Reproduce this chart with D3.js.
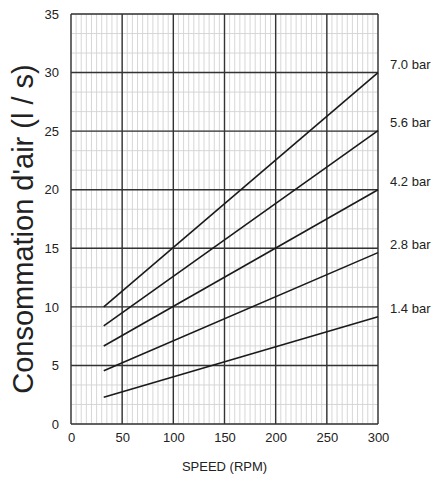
<!DOCTYPE html>
<meta charset="utf-8">
<html>
<head>
<style>
  body { margin: 0; background: #fff; }
  text { font-family: "Liberation Sans", Arial, sans-serif; fill: #222; }
</style>
<script src="https://d3js.org/d3.v7.min.js"></script>
</head>
<body>
<svg width="434" height="482"></svg>
<script>

// values
var speeds = [32, 300];                       // RPM at line start / end
var pressures = ["7.0 bar", "5.6 bar", "4.2 bar", "2.8 bar", "1.4 bar"];
var airStart = [10.0, 8.37, 6.66, 4.55, 2.28];  // l/s at start speed
var airEnd   = [30.0, 25.05, 20.0, 14.63, 9.16]; // l/s at 300 RPM
var xTicks = [0, 50, 100, 150, 200, 250, 300];
var yTicks = [0, 5, 10, 15, 20, 25, 30, 35];

var svg = d3.select("svg"),
    margin = {top: 14, right: 56, bottom: 58, left: 71};

var x = d3.scaleLinear()
    .domain([0, 300])
    .range([margin.left, 434 - margin.right]);

var y = d3.scaleLinear()
    .domain([0, 35])
    .range([482 - margin.bottom, margin.top]);

// minor grid
svg.append("g")
    .attr("stroke", "#d2d2d2")
    .attr("stroke-width", 0.9)
    .selectAll("line")
    .data(d3.range(0, 301, 5))
    .enter().append("line")
    .attr("x1", function(d) { return x(d); })
    .attr("x2", function(d) { return x(d); })
    .attr("y1", y(0))
    .attr("y2", y(35));

svg.append("g")
    .attr("stroke", "#d2d2d2")
    .attr("stroke-width", 0.9)
    .selectAll("line")
    .data(d3.range(0, 35.01, 5 / 3))
    .enter().append("line")
    .attr("y1", function(d) { return y(d); })
    .attr("y2", function(d) { return y(d); })
    .attr("x1", x(0))
    .attr("x2", x(300));

// major grid
svg.append("g")
    .attr("stroke", "#333")
    .attr("stroke-width", 1.4)
    .selectAll("line")
    .data(xTicks)
    .enter().append("line")
    .attr("x1", function(d) { return x(d); })
    .attr("x2", function(d) { return x(d); })
    .attr("y1", y(0))
    .attr("y2", y(35));

svg.append("g")
    .attr("stroke", "#333")
    .attr("stroke-width", 1.4)
    .selectAll("line")
    .data(yTicks)
    .enter().append("line")
    .attr("y1", function(d) { return y(d); })
    .attr("y2", function(d) { return y(d); })
    .attr("x1", x(0))
    .attr("x2", x(300));

// axes (labels only)
svg.append("g")
    .attr("transform", "translate(0," + y(0) + ")")
    .call(d3.axisBottom(x).tickValues(xTicks).tickSize(0).tickPadding(9))
    .call(function(g) { g.select(".domain").remove(); })
    .selectAll("text")
    .attr("font-size", 13)
    .attr("fill", "#222");

svg.append("g")
    .attr("transform", "translate(" + x(0) + ",0)")
    .call(d3.axisLeft(y).tickValues(yTicks).tickSize(0).tickPadding(12))
    .call(function(g) { g.select(".domain").remove(); })
    .selectAll("text")
    .attr("font-size", 13)
    .attr("fill", "#222");

// lines
var line = d3.line()
    .x(function(d) { return x(d[0]); })
    .y(function(d) { return y(d[1]); });

svg.append("g")
    .attr("fill", "none")
    .attr("stroke", "#1a1a1a")
    .attr("stroke-width", 1.6)
    .selectAll("path")
    .data(pressures)
    .enter().append("path")
    .attr("d", function(d, i) {
        return line([[speeds[0], airStart[i]], [speeds[1], airEnd[i]]]);
    });

// line labels
svg.append("g")
    .selectAll("text")
    .data(pressures)
    .enter().append("text")
    .attr("x", x(300) + 12)
    .attr("y", function(d, i) { return y(airEnd[i]) - 4; })
    .attr("font-size", 13)
    .text(function(d) { return d; });

// titles
svg.append("text")
    .attr("x", x(150))
    .attr("y", 471)
    .attr("text-anchor", "middle")
    .attr("font-size", 13)
    .text("SPEED (RPM)");

svg.append("text")
    .attr("transform", "translate(33,229) rotate(-90)")
    .attr("text-anchor", "middle")
    .attr("font-size", 29)
    .text("Consommation d'air (l / s)");

</script>
</body>
</html>
